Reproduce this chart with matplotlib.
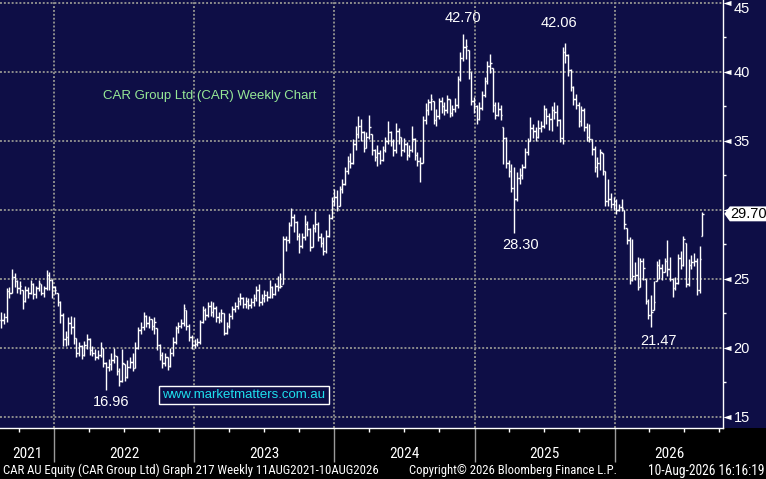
import numpy as np
import pandas as pd
import matplotlib
matplotlib.use('Agg')
import matplotlib.pyplot as plt
import matplotlib.dates as mdates
import matplotlib.ticker as mticker
import matplotlib.transforms as mtransforms
from matplotlib.collections import LineCollection
from matplotlib.patches import Polygon, Rectangle
from matplotlib.path import Path
from matplotlib import font_manager
from matplotlib.font_manager import FontProperties

# weekly CAR bars, 16 Aug 2021 .. 10 Aug 2026
closes = [
    22.0, 22.2, 24.1, 24.0, 25.1, 24.8, 24.3, 24.5, 23.4, 24.2,
    24.0, 24.6, 23.9, 24.3, 24.7, 24.0, 24.3, 25.3, 24.9, 24.4,
    24.2, 23.3, 22.4, 20.6, 20.8, 21.8, 21.5, 20.7, 19.6, 20.1,
    19.5, 20.2, 20.6, 19.8, 19.6, 19.3, 19.5, 20.0, 18.9, 18.6,
    18.8, 19.1, 19.5, 18.3, 17.6, 18.9, 17.9, 18.6, 19.0, 18.5,
    20.0, 21.3, 21.5, 22.3, 21.8, 22.1, 21.6, 21.9, 20.2, 19.5,
    18.9, 19.3, 18.7, 19.6, 20.4, 21.4, 21.6, 21.8, 22.9, 21.6,
    20.8, 20.2, 20.3, 20.4, 21.9, 22.7, 22.4, 23.0, 22.6, 22.9,
    22.2, 22.0, 22.5, 21.1, 21.6, 22.3, 22.8, 23.0, 23.4, 23.6,
    23.2, 23.4, 23.1, 23.3, 23.6, 24.2, 23.3, 23.6, 23.8, 23.7,
    24.4, 23.9, 24.5, 24.4, 24.5, 27.9, 27.8, 28.9, 29.5, 29.1,
    28.1, 27.4, 28.0, 29.0, 28.6, 27.3, 28.7, 29.0, 28.0, 27.6,
    27.0, 28.1, 29.4, 30.6, 30.9, 30.1, 31.5, 31.9, 32.8, 33.5,
    33.4, 34.8, 35.5, 36.1, 35.6, 34.5, 35.3, 36.0, 34.3, 33.8,
    34.1, 33.6, 34.3, 35.0, 35.6, 35.0, 34.3, 35.7, 35.3, 34.3,
    34.8, 34.0, 34.3, 35.1, 34.0, 33.5, 33.4, 36.5, 37.2, 37.8,
    38.0, 36.5, 36.8, 37.9, 37.5, 37.2, 38.0, 37.0, 37.3, 37.6,
    39.5, 41.0, 41.8, 41.9, 40.2, 37.9, 37.5, 36.6, 37.4, 38.3,
    39.3, 40.4, 40.6, 37.6, 36.9, 37.3, 36.9, 35.2, 33.4, 32.8,
    31.6, 30.8, 32.3, 32.5, 33.1, 34.2, 35.0, 35.9, 35.7, 35.3,
    35.9, 36.1, 37.3, 36.8, 36.6, 37.2, 37.1, 36.5, 35.2, 41.4,
    41.2, 40.1, 38.9, 38.0, 37.6, 36.4, 37.2, 36.0, 35.3, 35.1,
    34.4, 33.1, 33.4, 34.2, 32.8, 30.6, 30.8, 30.4, 30.6, 30.0,
    30.2, 30.1, 29.0, 27.8, 24.9, 25.2, 25.3, 24.4, 26.3, 25.8,
    23.4, 22.4, 22.6, 23.3, 26.0, 25.8, 25.5, 26.3, 25.7, 25.0,
    24.3, 24.7, 26.5, 26.0, 27.9, 24.6, 26.0, 26.2, 26.3, 24.2,
    26.4, 29.7,
]
highs = [
    22.6, 22.5, 24.3, 24.4, 25.7, 25.4, 24.9, 24.8, 24.2, 24.5,
    24.4, 24.9, 24.7, 24.5, 24.9, 24.6, 24.5, 25.6, 25.5, 25.0,
    24.5, 24.0, 23.4, 22.5, 21.2, 22.2, 22.3, 22.2, 20.7, 20.4,
    20.2, 20.5, 21.0, 20.7, 20.1, 19.9, 19.8, 20.4, 20.0, 19.0,
    19.2, 19.6, 20.0, 19.4, 18.5, 19.9, 18.8, 19.1, 19.3, 19.6,
    20.4, 21.5, 21.9, 22.6, 22.4, 22.3, 22.1, 22.2, 21.4, 20.3,
    19.7, 19.6, 19.3, 20.0, 20.8, 21.6, 21.9, 22.1, 23.2, 22.7,
    21.7, 20.9, 20.6, 20.7, 22.0, 23.0, 22.9, 23.3, 23.4, 23.3,
    23.0, 22.6, 22.8, 22.5, 21.9, 22.5, 23.0, 23.3, 23.7, 24.0,
    23.7, 23.7, 23.6, 23.6, 23.9, 24.5, 24.6, 23.9, 24.2, 24.1,
    24.9, 24.5, 24.7, 25.2, 25.4, 28.1, 28.1, 29.1, 30.1, 29.7,
    29.2, 28.3, 28.3, 29.6, 29.2, 28.7, 29.0, 29.9, 29.1, 28.3,
    28.0, 28.5, 29.7, 30.9, 31.5, 31.4, 31.7, 32.2, 33.1, 33.9,
    34.1, 35.1, 36.1, 36.8, 36.6, 35.7, 35.6, 36.9, 35.5, 34.4,
    34.7, 34.3, 34.6, 35.3, 36.4, 35.7, 35.1, 36.3, 35.9, 35.3,
    35.2, 34.9, 34.7, 36.1, 35.2, 34.2, 33.8, 36.8, 37.7, 38.0,
    38.4, 37.9, 37.3, 38.1, 38.2, 37.8, 38.3, 38.0, 37.6, 38.1,
    39.7, 41.4, 42.7, 42.4, 41.6, 40.0, 38.2, 37.6, 37.8, 38.6,
    39.6, 40.8, 41.3, 40.3, 37.8, 37.8, 37.6, 36.0, 35.3, 33.6,
    33.3, 33.1, 32.7, 33.0, 33.3, 34.5, 35.2, 36.7, 36.2, 36.0,
    36.5, 36.4, 37.6, 37.4, 37.0, 37.5, 37.8, 37.6, 36.6, 41.8,
    42.06, 41.3, 40.2, 39.0, 38.4, 37.8, 37.5, 37.4, 36.3, 36.2,
    35.1, 34.6, 33.8, 34.4, 34.1, 32.8, 32.2, 31.2, 30.9, 30.8,
    30.4, 30.8, 30.0, 28.7, 28.0, 27.9, 26.2, 26.6, 26.5, 26.5,
    25.0, 23.5, 23.8, 24.8, 26.3, 26.4, 26.1, 26.5, 27.8, 26.6,
    25.0, 25.1, 26.8, 27.0, 28.1, 27.6, 26.4, 26.7, 26.9, 26.5,
    27.4, 29.8,
]
lows = [
    21.4, 21.7, 21.9, 23.6, 24.0, 24.4, 24.0, 23.9, 22.8, 23.3,
    23.6, 23.9, 23.5, 23.6, 24.1, 23.8, 23.7, 24.2, 24.2, 23.6,
    23.9, 23.0, 21.8, 20.1, 20.1, 20.2, 21.0, 20.3, 19.3, 19.4,
    19.2, 19.4, 19.9, 19.5, 19.4, 19.1, 19.2, 19.3, 18.6, 16.96,
    18.3, 18.4, 18.9, 18.0, 17.2, 17.5, 17.6, 17.8, 18.5, 18.3,
    18.5, 19.9, 21.0, 21.3, 21.5, 21.4, 21.3, 21.0, 19.8, 19.1,
    18.5, 18.7, 18.4, 18.6, 19.4, 20.3, 21.1, 21.4, 21.6, 21.3,
    20.5, 19.9, 20.0, 20.1, 20.3, 21.8, 22.0, 22.2, 22.3, 22.2,
    21.9, 21.8, 21.9, 20.9, 21.0, 21.4, 22.1, 22.6, 22.8, 23.1,
    22.9, 22.9, 22.8, 22.9, 23.0, 23.4, 23.0, 23.1, 23.3, 23.4,
    23.6, 23.6, 23.8, 24.1, 24.3, 24.6, 27.0, 27.6, 28.8, 28.4,
    27.8, 26.9, 27.2, 27.8, 28.1, 27.0, 27.3, 28.4, 27.7, 27.3,
    26.7, 26.9, 28.0, 29.3, 30.3, 29.9, 30.3, 31.2, 31.8, 32.6,
    33.0, 33.3, 34.3, 35.2, 35.0, 34.2, 34.5, 35.1, 34.0, 33.5,
    33.2, 33.3, 33.5, 34.2, 34.8, 34.6, 33.9, 34.1, 34.8, 33.9,
    34.2, 33.6, 33.8, 34.2, 33.6, 33.2, 32.0, 33.4, 36.2, 36.9,
    37.2, 36.2, 36.1, 36.6, 37.0, 36.9, 37.0, 36.7, 36.8, 37.1,
    37.4, 39.3, 40.8, 40.9, 39.5, 37.6, 37.0, 36.2, 36.5, 37.2,
    38.2, 39.1, 39.9, 37.1, 36.6, 36.8, 36.5, 33.3, 33.0, 32.4,
    31.3, 28.3, 30.6, 31.9, 32.2, 33.0, 34.0, 35.0, 35.2, 35.0,
    35.2, 35.6, 35.9, 36.2, 35.8, 35.7, 36.6, 36.1, 34.9, 34.8,
    40.6, 39.7, 38.6, 37.6, 37.3, 36.0, 36.1, 35.7, 35.0, 34.9,
    34.0, 32.7, 32.4, 32.9, 32.5, 30.3, 30.3, 30.1, 30.0, 29.7,
    29.9, 29.9, 28.6, 27.5, 24.6, 24.8, 24.9, 24.2, 24.4, 24.9,
    23.2, 22.1, 21.47, 22.7, 24.8, 25.0, 24.9, 25.5, 25.2, 24.8,
    23.7, 24.2, 24.6, 25.7, 25.9, 24.4, 24.5, 25.7, 25.9, 23.8,
    24.0, 28.1,
]
years = ['2021', '2022', '2023', '2024', '2025', '2026']
title = 'CAR Group Ltd (CAR) Weekly Chart'
site = 'www.marketmatters.com.au'
footer_left = 'CAR AU Equity (CAR Group Ltd) Graph 217 Weekly 11AUG2021-10AUG2026'
footer_mid = 'Copyright\u00a9 2026 Bloomberg Finance L.P.'
footer_right = '10-Aug-2026 16:16:19'

NAVY = '#0e0e46'
GRID = '#8c8c8c'
SANS = 'Liberation Sans'


def narrow_font():
    # prefer a condensed face if the system has one
    fl = font_manager.fontManager.ttflist
    for key in ['Liberation Sans Narrow', 'Arial Narrow', 'Roboto Condensed', 'Open Sans Condensed']:
        for f in fl:
            if f.name == key and f.weight in (400, 'normal', 'regular') and f.style == 'normal':
                return f.fname
    for f in fl:
        if f.name == 'DejaVu Sans' and f.stretch in ('condensed', 'semi-condensed') \
                and f.style == 'normal' and f.weight in (400, 'normal'):
            return f.fname
    return None


nf = narrow_font()


def nprops(size):
    if nf:
        return FontProperties(fname=nf, size=size)
    return FontProperties(family=SANS, size=size)


dates = pd.date_range('2021-08-16', periods=len(closes), freq='7D')
x = mdates.date2num(dates)
c = np.array(closes)
h = np.array(highs)
l = np.array(lows)
o = np.clip(np.r_[c[0], c[:-1]], l, h)

fig = plt.figure(figsize=(7.66, 4.79), dpi=100, facecolor='black')
bottom = 1 - 428.3 / 479
fig.add_artist(Rectangle((0, bottom), 1, 1 - bottom, transform=fig.transFigure,
                         facecolor=NAVY, edgecolor='none', zorder=-5))
ax = fig.add_axes([0, bottom, 723.3 / 766, 1 - bottom])
ax.set_facecolor(NAVY)

# OHLC bars
w = 4.0
segs = []
for xi, oi, hi, li, ci in zip(x, o, h, l, c):
    segs.append([(xi, li), (xi, hi)])
    segs.append([(xi - w, oi), (xi, oi)])
    segs.append([(xi, ci), (xi + w, ci)])
ax.add_collection(LineCollection(segs, colors='white', linewidths=1.0, zorder=3))

x0 = mdates.date2num(pd.Timestamp('2021-08-13'))
x1 = mdates.date2num(pd.Timestamp('2026-10-11'))
ax.set_xlim(x0, x1)
ax.set_ylim(14.16, 45.2)

for s in ['top', 'left']:
    ax.spines[s].set_visible(False)
for s in ['right', 'bottom']:
    ax.spines[s].set_color('white')
    ax.spines[s].set_linewidth(1.0)

ax.xaxis.set_major_locator(mdates.YearLocator())
ax.xaxis.set_minor_locator(mdates.MonthLocator(bymonth=[4, 7, 10]))
ax.xaxis.set_major_formatter(mticker.NullFormatter())
ax.tick_params(axis='x', which='major', length=24.5, width=1, color='#9a9a9a', direction='out')
ax.tick_params(axis='x', which='minor', length=3, width=1, color='white', direction='out')

ax.yaxis.tick_right()
ax.yaxis.set_major_locator(mticker.MultipleLocator(5))
ax.yaxis.set_minor_locator(mticker.MultipleLocator(2.5))
ax.yaxis.set_major_formatter(
    mticker.FuncFormatter(lambda v, p: '' if (abs(v - 30) < 0.01 or v > 44.9) else f'{v:.0f}'))
ax.tick_params(axis='y', which='major', length=0, pad=7.5, labelcolor='white', labelsize=10.5)
ax.tick_params(axis='y', which='minor', length=2.5, width=1, color='white', direction='out')
for lab in ax.get_yticklabels():
    lab.set_family(SANS)

ax.set_axisbelow(True)
ax.grid(True, which='major', color=GRID, linestyle=(0, (1, 1)), linewidth=1.4)

yt_tr = ax.get_yaxis_transform()

# tick arrows on the price axis
tri = Path([(0, 0), (1, 0.32), (1, -0.32), (0, 0)],
           [Path.MOVETO, Path.LINETO, Path.LINETO, Path.CLOSEPOLY])
yt = np.arange(15, 46, 5)
ax.plot(np.ones(len(yt)), yt, ls='none', marker=tri, ms=11.5, mew=0, color='white',
        transform=yt_tr, clip_on=False, zorder=6)
# top label sits just under the frame edge
ax.annotate(f'{yt[-1]:.0f}', (1, yt[-1]), xycoords=yt_tr, xytext=(7.5, -4.5),
            textcoords='offset points', ha='left', va='center', color='white',
            fontsize=10.5, family=SANS, annotation_clip=False)

# last price box
last = c[-1]
box = Polygon([(1.0015, last), (1.009, last + 0.54), (1.07, last + 0.54),
               (1.07, last - 0.54), (1.009, last - 0.54)], closed=True,
              transform=yt_tr, facecolor='white', edgecolor='none', clip_on=False, zorder=7)
ax.add_patch(box)
ax.text(1.0345, last, f'{last:.2f}', transform=yt_tr, ha='center', va='center',
        color='black', fontsize=10.5, family=SANS, zorder=8, clip_on=False)

# high / low callouts
callouts = [
    (int(np.argmax(h[:200])), h, 0, 12),
    (200 + int(np.argmax(h[200:])), h, -4.7, 14.5),
    (180 + int(np.argmin(l[180:220])), l, 4.6, -8.6),
    (220 + int(np.argmin(l[220:])), l, 5.5, -9.8),
    (int(np.argmin(l)), l, 3.4, -9.2),
]
for i, arr, dx, dy in callouts:
    ax.annotate(f'{arr[i]:.2f}', (x[i], arr[i]), xytext=(dx, dy), textcoords='offset points',
                ha='center', va='center', color='white', fontsize=10.5, family=SANS)

ax.text(102.7 / 723.3, 1 - 95.7 / 428.3, title, transform=ax.transAxes, ha='left', va='center',
        color='#96e896', fontsize=9.5, family=SANS)
ax.text(243.9 / 723.3, 1 - 395 / 428.3, site, transform=ax.transAxes, ha='center', va='center',
        color='#1ee0ee', fontsize=9.5, family=SANS,
        bbox=dict(boxstyle='square,pad=0.25', facecolor=NAVY, edgecolor='white', linewidth=1))

# year labels under the axis
bounds = [x0] + [mdates.date2num(pd.Timestamp(f'{y}-01-01')) for y in range(2022, 2027)] + [x1]
ytr = mtransforms.blended_transform_factory(ax.transData, fig.transFigure)
for k, yr in enumerate(years):
    fig.text((bounds[k] + bounds[k + 1]) / 2, 1 - 454 / 479, yr, transform=ytr, ha='center',
             va='center', color='white', fontproperties=nprops(11))

# footer, squeezed to the reference widths
fy = 1 - 470.5 / 479
renderer = fig.canvas.get_renderer()
for txt, xpos, ha, target in [(footer_left, 3, 'left', 375),
                              (footer_mid, 409, 'left', 207),
                              (footer_right, 764, 'right', 116)]:
    t = fig.text(xpos / 766, fy, txt, ha=ha, va='center', color='white', fontproperties=nprops(10))
    wpx = t.get_window_extent(renderer).width
    t.set_fontproperties(nprops(10 * target / wpx))

fig.savefig('out.png', dpi=100, facecolor='black')
